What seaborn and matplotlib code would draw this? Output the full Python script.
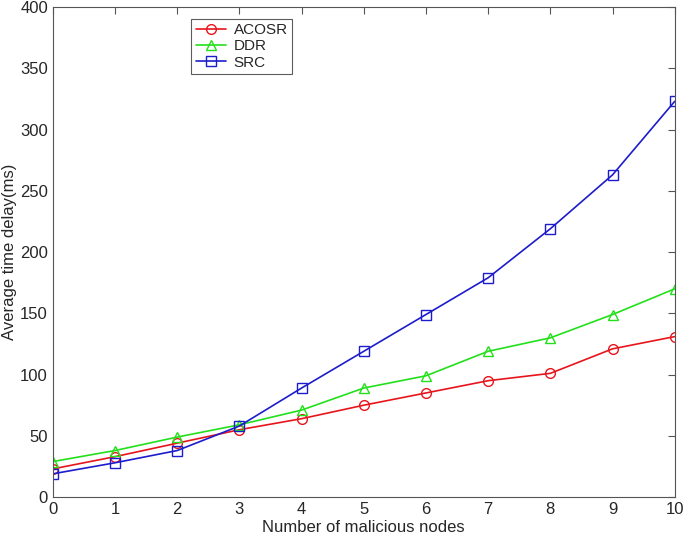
import matplotlib
matplotlib.use('Agg')
import matplotlib.pyplot as plt
import pandas as pd
import seaborn as sns

nodes = [0, 1, 2, 3, 4, 5, 6, 7, 8, 9, 10]
acosr = [23, 33, 44, 55, 64, 75, 85, 95, 101, 121, 131]
ddr = [29, 38, 49, 59, 71, 89, 99, 119, 130, 149, 170]
src = [19, 28, 38, 58, 89, 119, 149, 179, 219, 263, 323]
series_names = ['ACOSR', 'DDR', 'SRC']
colors = ['#e8141c', '#22e01a', '#1c1ccc']
markers = ['o', '^', 's']

sns.set_style('white')
plt.rcParams['font.family'] = ['Liberation Sans', 'DejaVu Sans']

df = pd.DataFrame({
    'x': nodes * 3,
    'y': acosr + ddr + src,
    'series': [n for n in series_names for _ in nodes],
})

fig = plt.figure(figsize=(6.85, 5.38), dpi=100)
ax = fig.add_axes([0.077, 0.076, 0.908, 0.911])
for name, c, m in zip(series_names, colors, markers):
    sub = df[df['series'] == name]
    sns.lineplot(data=sub, x='x', y='y', ax=ax, color=c, marker=m, markersize=7,
                 markerfacecolor='none', markeredgecolor=c, markeredgewidth=1.0,
                 linewidth=1.2, label=name)

ax.set_xlim(0, 10)
ax.set_ylim(0, 400)
ax.set_xticks(range(0, 11))
ax.set_yticks(range(0, 401, 50))
ax.tick_params(direction='in', top=True, right=True, length=5, labelsize=12,
               color='#555555', width=0.8)
for s in ax.spines.values():
    s.set_color('#555555')
    s.set_linewidth(0.8)
ax.set_xlabel('Number of malicious nodes', fontsize=12, labelpad=2)
ax.set_ylabel('Average time delay(ms)', fontsize=12, labelpad=2)

leg = ax.legend(loc='upper left', bbox_to_anchor=(0.21, 0.992), fontsize=11,
                frameon=True, fancybox=False, edgecolor='#333333',
                handlelength=2.0, handletextpad=0.5, borderpad=0.3,
                labelspacing=0.15)
leg.get_frame().set_linewidth(0.8)

fig.savefig('out.png', dpi=100)
